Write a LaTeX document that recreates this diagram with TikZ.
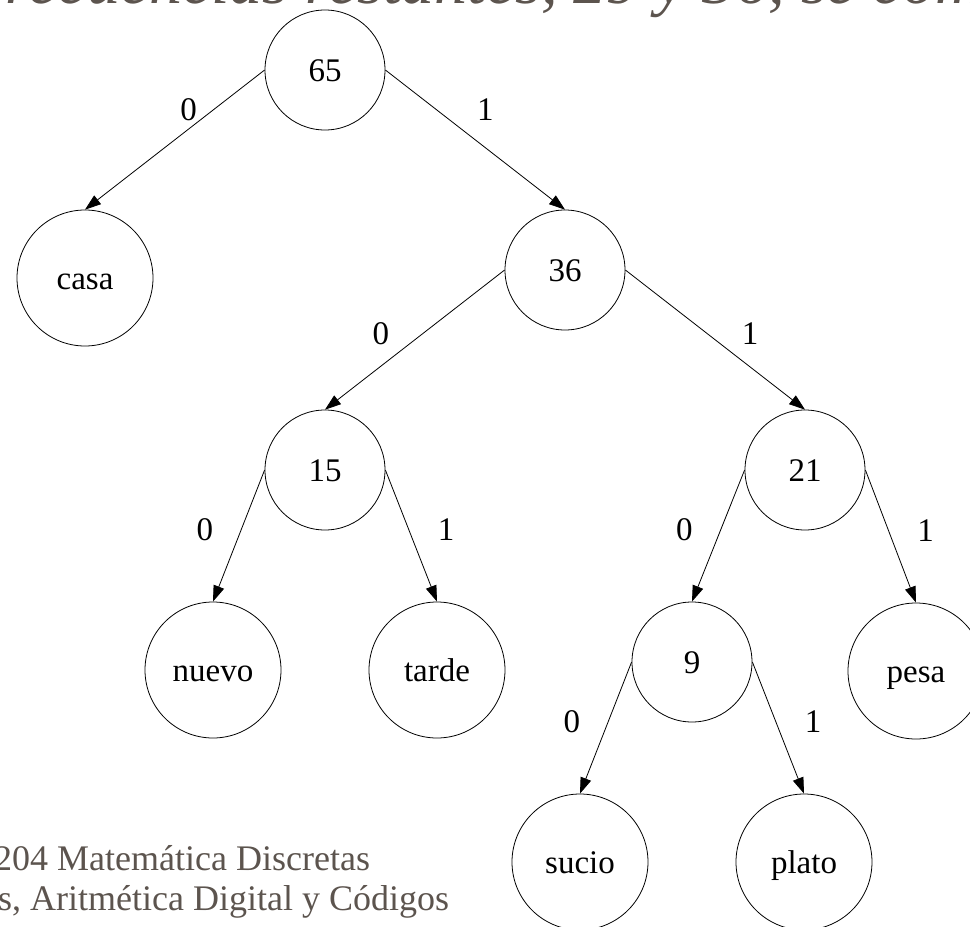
\documentclass[tikz,border=0pt]{standalone}
\usepackage{fontspec}
\setmainfont{Liberation Serif}
\usetikzlibrary{arrows.meta}

\definecolor{slidegray}{RGB}{92,84,78}

\tikzset{
  every node/.style={font=\fontsize{33}{40}\selectfont},
  inner/.style={circle, draw, line width=0.8pt, minimum size=120pt, inner sep=0pt,
    text height=26pt, text depth=4pt},
  leaf/.style={circle, draw, line width=0.8pt, minimum size=136pt, inner sep=0pt,
    text height=26pt, text depth=4pt},
  edge/.style={-{Triangle[length=16pt,width=11pt]}, line width=0.8pt},
  bit0/.style={midway, xshift=-34pt, yshift=6pt},
  bit1/.style={midway, xshift=35pt, yshift=6pt},
  slide/.style={text=slidegray, inner sep=0pt}
}

\begin{document}
\begin{tikzpicture}[x=1pt, y=-1pt]
      \useasboundingbox (0,0) rectangle (970,927);

      % slide text, cut by the page
      \node[slide, anchor=base west, font=\fontsize{66}{72}\itshape] (title) at (5,3) {recuencias restantes, 29 y 36, se com};
      \node[slide, anchor=base west, font=\fontsize{36}{40}\selectfont] (course) at (-6,870) {204 Matemática Discretas};
      \node[slide, anchor=base west, font=\fontsize{36}{40}\selectfont] (topic) at (-2,910) {s, Aritmética Digital y Códigos};

      \node[inner] (n65) at (325, 70) {65};
      \node[leaf] (casa) at (85, 278) {casa};
      \node[inner] (n36) at (565, 270) {36};
      \node[inner] (n15) at (325, 470) {15};
      \node[inner] (n21) at (805, 470) {21};
      \node[leaf] (nuevo) at (213, 670) {nuevo};
      \node[leaf] (tarde) at (437, 670) {tarde};
      \node[inner] (n9) at (692, 662) {9};
      \node[leaf] (pesa) at (916, 671) {pesa};
      \node[leaf] (sucio) at (580, 862) {sucio};
      \node[leaf] (plato) at (804, 862) {plato};

      \draw[edge] (n65.west) -- (casa.north) node[pos=0.3, xshift=-22pt, yshift=2pt] {0};
      \draw[edge] (n65.east) -- (n36.north) node[pos=0.3, xshift=46pt, yshift=2pt] {1};
      \draw[edge] (n36.west) -- (n15.north) node[bit0] {0};
      \draw[edge] (n36.east) -- (n21.north) node[bit1] {1};
      \draw[edge] (n15.west) -- (nuevo.north) node[bit0] {0};
      \draw[edge] (n15.east) -- (tarde.north) node[bit1] {1};
      \draw[edge] (n21.west) -- (n9.north) node[bit0] {0};
      \draw[edge] (n21.east) -- (pesa.north) node[bit1] {1};
      \draw[edge] (n9.west) -- (sucio.north) node[bit0] {0};
      \draw[edge] (n9.east) -- (plato.north) node[bit1] {1};
\end{tikzpicture}
\end{document}
